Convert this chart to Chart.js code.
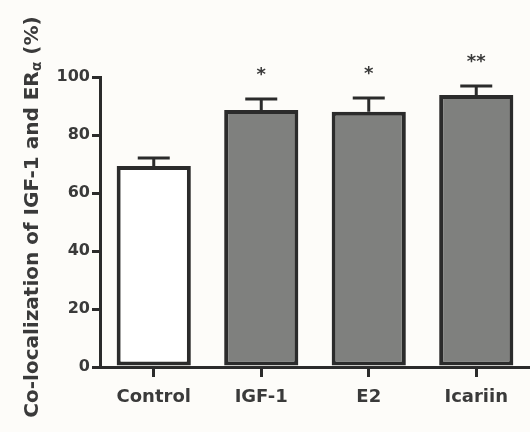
<!DOCTYPE html>
<html>
<head>
<meta charset="utf-8">
<script src="https://cdn.jsdelivr.net/npm/chart.js@4/dist/chart.umd.min.js"></script>
<style>
html, body { margin: 0; padding: 0; background: #fdfcf9; }
#wrap { width: 530px; height: 432px; }
</style>
</head>
<body>
<div id="wrap"><canvas id="chartColoc" width="530" height="432"></canvas></div>
<script>
// data
var groups = ['Control', 'IGF-1', 'E2', 'Icariin'];
var means = [69.3, 88.6, 88.0, 93.8];
var errors = [2.8, 3.8, 4.8, 3.1];
var marks = ['', '*', '*', '**'];
var yTicks = [0, 20, 40, 60, 80, 100];
var barColors = ['#ffffff', '#7f807e', '#7f807e', '#7f807e'];
// y title, with the alpha written as a subscript
var yTitle = [['Co-localization of IGF-1 and ER', false], ['α', true], [' (%)', false]];

var ink = '#2b2b2b';
var textColor = '#3a3a3a';

// error bars (upper only) and significance stars
const errorBars = {
    id: 'errorBars',
    afterDatasetsDraw(chart) {
        const ctx = chart.ctx;
        const meta = chart.getDatasetMeta(0);
        const y = chart.scales.y;
        ctx.save();
        ctx.strokeStyle = ink;
        ctx.lineWidth = 3;
        ctx.fillStyle = textColor;
        ctx.font = 'bold 18px "DejaVu Sans"';
        ctx.textAlign = 'center';
        ctx.textBaseline = 'middle';
        meta.data.forEach(function (bar, i) {
            const top = y.getPixelForValue(means[i] + errors[i]);
            ctx.beginPath();
            ctx.moveTo(bar.x, bar.y);
            ctx.lineTo(bar.x, top);
            ctx.moveTo(bar.x - 16, top);
            ctx.lineTo(bar.x + 16, top);
            ctx.stroke();
            if (marks[i]) {
                ctx.fillText(marks[i], bar.x, top - 24);
            }
        });
        ctx.restore();
    }
};

// rotated y axis title
const yAxisTitle = {
    id: 'yAxisTitle',
    afterDraw(chart) {
        const ctx = chart.ctx;
        const area = chart.chartArea;
        const big = 'bold 20px "DejaVu Sans"';
        const small = 'bold 14px "DejaVu Sans"';
        ctx.save();
        let total = 0;
        yTitle.forEach(function (part) {
            ctx.font = part[1] ? small : big;
            total += ctx.measureText(part[0]).width;
        });
        ctx.translate(33, (area.top + area.bottom) / 2 - 5);
        ctx.rotate(-Math.PI / 2);
        ctx.fillStyle = textColor;
        ctx.textBaseline = 'middle';
        ctx.textAlign = 'left';
        let x = -total / 2;
        yTitle.forEach(function (part) {
            ctx.font = part[1] ? small : big;
            ctx.fillText(part[0], x, part[1] ? 4 : 0);
            x += ctx.measureText(part[0]).width;
        });
        ctx.restore();
    }
};

const config = {
    type: 'bar',
    data: {
        labels: groups,
        datasets: [{
            data: means,
            backgroundColor: barColors,
            borderColor: ink,
            borderWidth: 4,
            borderSkipped: false,
            categoryPercentage: 0.69,
            barPercentage: 1
        }]
    },
    options: {
        responsive: false,
        animation: false,
        layout: { padding: { top: 77, right: 0, bottom: 0, left: 0 } },
        plugins: {
            legend: { display: false },
            tooltip: { enabled: false }
        },
        scales: {
            x: {
                afterFit: function (scale) { scale.height = 65; },
                border: { color: ink, width: 3 },
                grid: { drawOnChartArea: false, offset: false, tickLength: 10, color: ink, lineWidth: 3 },
                ticks: {
                    color: textColor,
                    padding: 10,
                    font: { family: 'DejaVu Sans', weight: 'bold', size: 18 }
                }
            },
            y: {
                min: 0,
                max: 100,
                afterFit: function (scale) { scale.width = 100; },
                afterBuildTicks: function (scale) {
                    scale.ticks = yTicks.map(function (v) { return { value: v }; });
                },
                border: { color: ink, width: 3 },
                grid: { drawOnChartArea: false, tickLength: 8, color: ink, lineWidth: 3 },
                ticks: {
                    color: textColor,
                    padding: 2,
                    font: { family: 'DejaVu Sans', weight: 'bold', size: 16 }
                }
            }
        }
    },
    plugins: [errorBars, yAxisTitle]
};

let myChart = new Chart(document.getElementById('chartColoc'), config);
</script>
</body>
</html>
